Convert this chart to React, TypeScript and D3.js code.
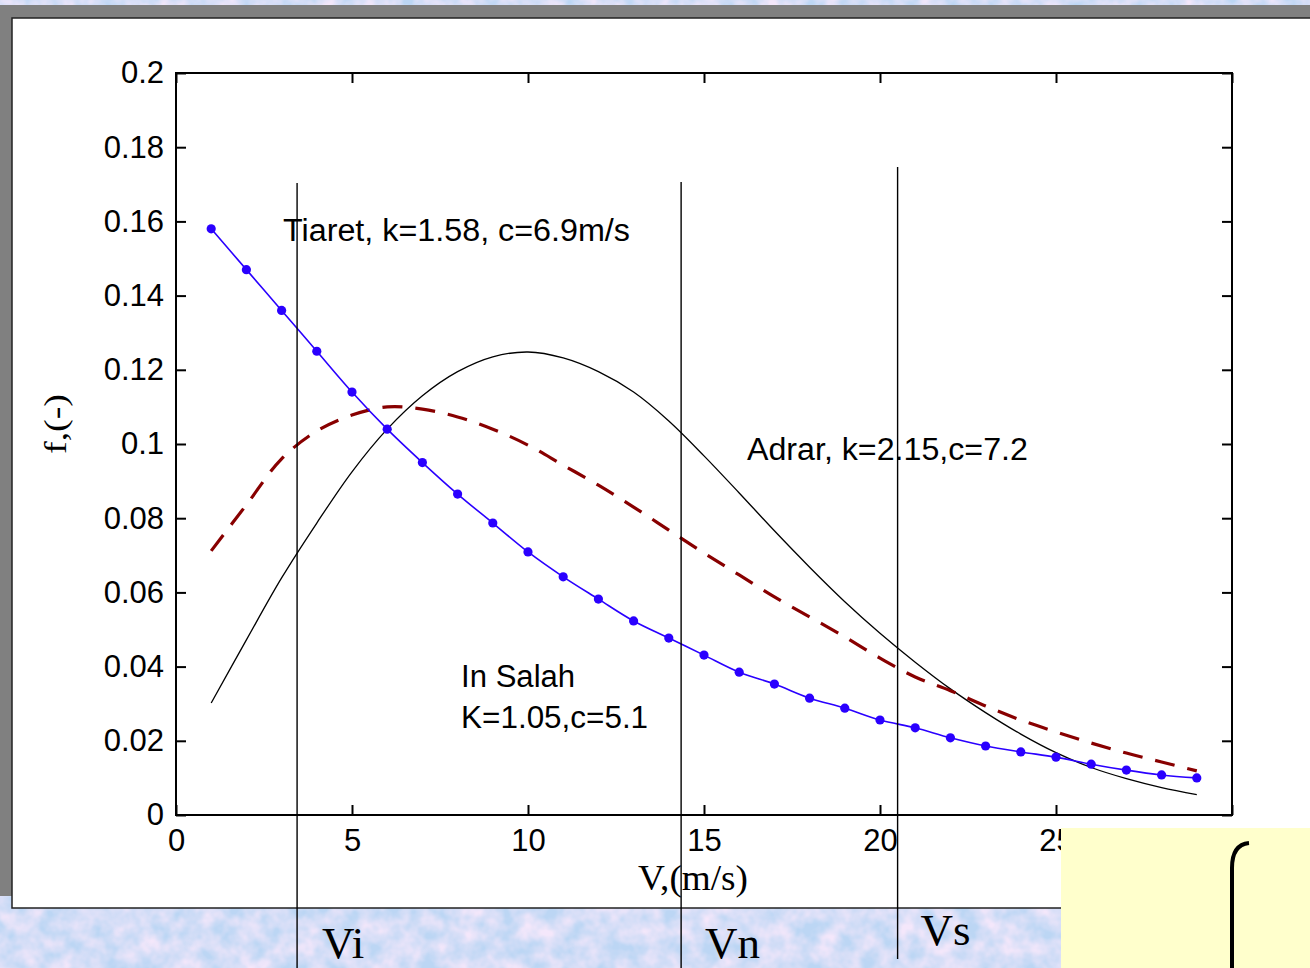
import React, { useEffect, useRef } from 'react';
import * as d3 from 'd3';

// wind speed samples (m/s)
const speeds = [1, 2, 3, 4, 5, 6, 7, 8, 9, 10, 11, 12, 13, 14, 15, 16, 17, 18, 19, 20, 21, 22, 23, 24, 25, 26, 27, 28, 29];

// In Salah, K=1.05, c=5.1 (blue, dots)
const inSalah = [0.158, 0.147, 0.136, 0.125, 0.114, 0.104, 0.095, 0.0865, 0.0787, 0.0709, 0.0642, 0.0582, 0.0523, 0.0477, 0.0431, 0.0385, 0.0353, 0.0315, 0.0288, 0.0256, 0.0235, 0.0208, 0.0186, 0.017, 0.0156, 0.0137, 0.0121, 0.0108, 0.01];

// Tiaret, k=1.58, c=6.9 (dark red, dashed)
const tiaret = [0.0712, 0.0836, 0.096, 0.1035, 0.1078, 0.11, 0.1094, 0.1073, 0.104, 0.0997, 0.0943, 0.0889, 0.083, 0.0768, 0.0706, 0.0647, 0.0588, 0.0534, 0.048, 0.0423, 0.0372, 0.0335, 0.0294, 0.0256, 0.0224, 0.0194, 0.0167, 0.0143, 0.0119];

// Adrar, k=2.15, c=7.2 (black, solid)
const adrar = [0.0302, 0.0472, 0.0639, 0.0787, 0.0925, 0.104, 0.113, 0.1195, 0.1235, 0.1248, 0.1232, 0.1195, 0.114, 0.1062, 0.0968, 0.0868, 0.0766, 0.0668, 0.0575, 0.049, 0.0412, 0.034, 0.0276, 0.0218, 0.0168, 0.0128, 0.0098, 0.0074, 0.0055];

const xTicks = [0, 5, 10, 15, 20, 25, 30];
const yTicks = [0, 0.02, 0.04, 0.06, 0.08, 0.1, 0.12, 0.14, 0.16, 0.18, 0.2];

// cut-in, nominal and cut-out speeds
const markers = [
  { name: 'Vi', v: 3.44 },
  { name: 'Vn', v: 14.35 },
  { name: 'Vs', v: 20.5 },
];

const annotations = [
  { lines: ['Tiaret, k=1.58, c=6.9m/s'], widths: [347], v: 3.04, f: 0.1547 },
  { lines: ['Adrar, k=2.15,c=7.2'], widths: [281], v: 16.22, f: 0.0957 },
  { lines: ['In Salah', 'K=1.05,c=5.1'], widths: [114, 187], v: 8.1, f: 0.0345 },
];

export default function App() {
  const ref = useRef<SVGSVGElement>(null);

  useEffect(() => {
    const svg = d3.select(ref.current);
    svg.selectAll('*').remove();

    const W = 1310;
    const H = 968;
    const plot = { left: 176, right: 1232, top: 73, bottom: 815 };
    const sans = '"Liberation Sans", Arial, sans-serif';
    const serif = '"Liberation Serif", "Times New Roman", serif';

    // mottled slide background
    const defs = svg.append('defs');
    const filter = defs.append('filter').attr('id', 'tex').attr('x', 0).attr('y', 0).attr('width', '100%').attr('height', '100%');
    filter.append('feTurbulence').attr('type', 'fractalNoise').attr('baseFrequency', 0.05).attr('numOctaves', 3).attr('seed', 7).attr('result', 'n');
    filter.append('feColorMatrix').attr('in', 'n').attr('type', 'matrix')
      .attr('values', '0 0 0 0 0.9  0 0 0 0 0.8  0 0 0 0 0.96  1.8 0 0 0 -0.45');
    filter.append('feComposite').attr('in2', 'SourceGraphic').attr('operator', 'in');

    svg.append('rect').attr('width', W).attr('height', H).attr('fill', '#bcd6f4');
    svg.append('rect').attr('width', W).attr('height', H).attr('fill', '#fff').attr('filter', 'url(#tex)');

    // window frame
    svg.append('rect').attr('x', 0).attr('y', 5).attr('width', W).attr('height', 13).attr('fill', '#808080');
    svg.append('rect').attr('x', 0).attr('y', 5).attr('width', 12).attr('height', 891).attr('fill', '#808080');
    svg.append('rect').attr('x', 12).attr('y', 18).attr('width', W).attr('height', 890)
      .attr('fill', '#fff').attr('stroke', '#222').attr('stroke-width', 1.5);

    const x = d3.scaleLinear().domain([0, 30]).range([plot.left, plot.right]);
    const y = d3.scaleLinear().domain([0, 0.2]).range([plot.bottom, plot.top]);
    const fmt = (d: number) => String(+d.toFixed(2));

    const g = svg.append('g');

    // axes with inward ticks, box on
    const styleAxis = (sel: any) => {
      sel.select('.domain').remove();
      sel.selectAll('line').attr('stroke', '#000').attr('stroke-width', 2);
      sel.selectAll('text').attr('font-family', sans).attr('font-size', 31).attr('fill', '#000');
    };
    g.append('g').attr('transform', `translate(0,${plot.bottom})`)
      .call(d3.axisBottom(x).tickValues(xTicks).tickSize(-10).tickPadding(14).tickFormat((d: any) => fmt(d)))
      .call(styleAxis);
    g.append('g').attr('transform', `translate(${plot.left},0)`)
      .call(d3.axisLeft(y).tickValues(yTicks).tickSize(-10).tickPadding(12).tickFormat((d: any) => fmt(d)))
      .call(styleAxis);
    g.append('g').attr('transform', `translate(0,${plot.top})`)
      .call(d3.axisTop(x).tickValues(xTicks).tickSize(-10).tickFormat(() => ''))
      .call(styleAxis);
    g.append('g').attr('transform', `translate(${plot.right},0)`)
      .call(d3.axisRight(y).tickValues(yTicks).tickSize(-10).tickFormat(() => ''))
      .call(styleAxis);
    g.append('rect').attr('x', plot.left).attr('y', plot.top)
      .attr('width', plot.right - plot.left).attr('height', plot.bottom - plot.top)
      .attr('fill', 'none').attr('stroke', '#000').attr('stroke-width', 2);

    // axis labels
    g.append('text').attr('x', 693).attr('y', 890).attr('text-anchor', 'middle')
      .attr('font-family', serif).attr('font-size', 36)
      .attr('textLength', 110).attr('lengthAdjust', 'spacingAndGlyphs').text('V,(m/s)');
    g.append('text').attr('transform', 'translate(66,424) rotate(-90)').attr('text-anchor', 'middle')
      .attr('font-family', serif).attr('font-size', 32)
      .attr('textLength', 60).attr('lengthAdjust', 'spacingAndGlyphs').text('f,(-)');

    const line = d3.line<number>().x((_, i) => x(speeds[i])).y((d) => y(d)).curve(d3.curveCatmullRom);

    g.append('path').datum(adrar).attr('d', line).attr('fill', 'none').attr('stroke', '#000').attr('stroke-width', 1.3);
    g.append('path').datum(tiaret).attr('d', line).attr('fill', 'none').attr('stroke', '#880000')
      .attr('stroke-width', 3.2).attr('stroke-dasharray', '20 13');
    g.append('path').datum(inSalah).attr('d', line).attr('fill', 'none').attr('stroke', '#2a00ff').attr('stroke-width', 1.6);
    g.selectAll('.dot').data(inSalah).enter().append('circle')
      .attr('cx', (_, i) => x(speeds[i])).attr('cy', (d) => y(d)).attr('r', 4.6).attr('fill', '#2a00ff');

    // annotations
    annotations.forEach((a) => {
      a.lines.forEach((l, i) => {
        g.append('text').attr('font-family', sans).attr('font-size', 31).attr('fill', '#000')
          .attr('x', x(a.v)).attr('y', y(a.f) + i * 41)
          .attr('textLength', a.widths[i]).attr('lengthAdjust', 'spacingAndGlyphs').text(l);
      });
    });

    // speed limits
    const limitTop = [183, 182, 167];
    const limitBottom = [968, 968, 959];
    const labelY = [958, 958, 945];
    const labelDx = [25, 24, 23];
    markers.forEach((m, i) => {
      svg.append('line').attr('x1', x(m.v)).attr('x2', x(m.v)).attr('y1', limitTop[i]).attr('y2', limitBottom[i])
        .attr('stroke', '#000').attr('stroke-width', 1.4);
      svg.append('text').attr('x', x(m.v) + labelDx[i]).attr('y', labelY[i])
        .attr('font-family', serif).attr('font-size', 45).attr('fill', '#000').text(m.name);
    });

    // yellow note box with integral sign
    svg.append('rect').attr('x', 1061).attr('y', 828).attr('width', W - 1061).attr('height', H - 828).attr('fill', '#ffffcc');
    svg.append('path').attr('d', 'M1249,843 C1238,844 1232,852 1232,868 L1232,968')
      .attr('fill', 'none').attr('stroke', '#000').attr('stroke-width', 4);
  }, []);

  return (
    <svg ref={ref} width={1310} height={968} style={{ position: 'absolute', left: 0, top: 0, display: 'block' }} />
  );
}
